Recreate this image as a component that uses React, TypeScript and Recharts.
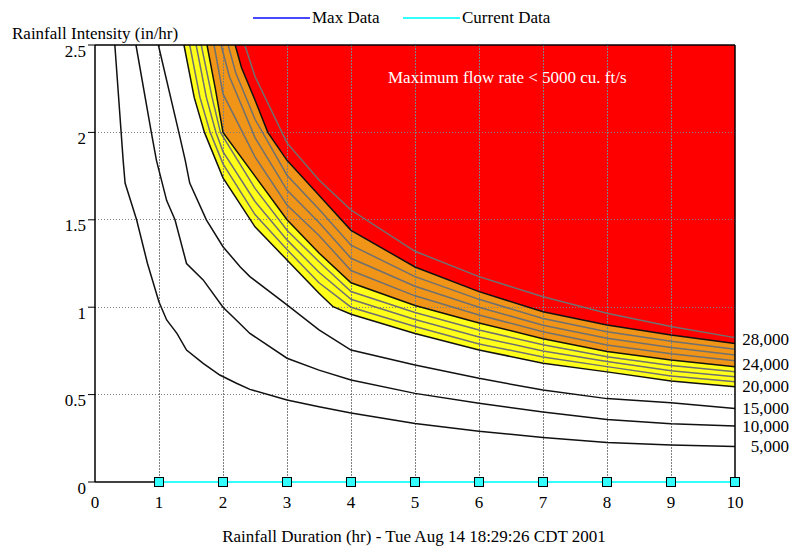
import {
  ComposedChart,
  Area,
  Line,
  XAxis,
  YAxis,
  CartesianGrid,
  ReferenceLine,
} from "recharts";

// contour lines of flow rate (cu. ft/s): [duration hr, intensity in/hr]
const flow5k = [
  [0.31, 2.5], [0.44, 1.84], [0.47, 1.71], [0.65, 1.5], [0.82, 1.25], [1.0, 1.03],
  [1.12, 0.927], [1.28, 0.85], [1.43, 0.755], [1.69, 0.679], [1.95, 0.612], [2.21, 0.565],
  [2.42, 0.53], [3, 0.469], [3.5, 0.43], [4, 0.395], [5, 0.335], [6, 0.29], [7, 0.255],
  [8, 0.226], [9, 0.212], [10, 0.203],
];
const flow10k = [
  [0.64, 2.5], [0.88, 2.0], [0.96, 1.84], [1.12, 1.61], [1.25, 1.5], [1.43, 1.25],
  [1.69, 1.156], [2.0, 1.0], [2.21, 0.925], [2.42, 0.85], [3, 0.708], [3.5, 0.64],
  [4, 0.584], [5, 0.507], [6, 0.45], [7, 0.4], [8, 0.357], [9, 0.333], [10, 0.32],
];
const flow15k = [
  [0.99, 2.5], [1.31, 2.0], [1.41, 1.84], [1.48, 1.71], [1.74, 1.5], [2.0, 1.346],
  [2.27, 1.23], [2.42, 1.175], [3, 1.013], [3.5, 0.87], [4, 0.755], [5, 0.669],
  [6, 0.593], [7, 0.526], [8, 0.477], [9, 0.454], [10, 0.421],
];
const flow20k = [
  [1.39, 2.5], [1.55, 2.2], [1.71, 2.0], [2, 1.74], [2.5, 1.46], [3, 1.27], [3.5, 1.08],
  [3.72, 1.003], [4, 0.96], [5, 0.85], [6, 0.755], [7, 0.68], [8, 0.63], [9, 0.578], [10, 0.545],
];
const flow21k = [
  [1.48, 2.5], [1.64, 2.2], [1.8, 2.0], [2, 1.82], [2.5, 1.53], [3, 1.33], [3.5, 1.14],
  [4, 1.0], [5, 0.89], [6, 0.79], [7, 0.715], [8, 0.66], [9, 0.607], [10, 0.574],
];
const flow22k = [
  [1.58, 2.5], [1.74, 2.2], [1.89, 2.0], [2, 1.89], [2.5, 1.605], [3, 1.385], [3.5, 1.2],
  [4, 1.045], [5, 0.93], [6, 0.83], [7, 0.75], [8, 0.69], [9, 0.637], [10, 0.602],
];
const flow23k = [
  [1.66, 2.5], [1.83, 2.2], [1.96, 2.0], [2.5, 1.68], [3, 1.44], [3.5, 1.26],
  [4, 1.09], [5, 0.97], [6, 0.87], [7, 0.785], [8, 0.717], [9, 0.667], [10, 0.631],
];
const flow24k = [
  [1.75, 2.5], [1.88, 2.25], [2, 2.0], [2.5, 1.75], [3, 1.5], [3.5, 1.31], [4, 1.14],
  [5, 1.01], [6, 0.91], [7, 0.82], [8, 0.746], [9, 0.698], [10, 0.66],
];
const flow25k = [
  [1.86, 2.5], [2, 2.22], [2.5, 1.86], [3, 1.585], [3.5, 1.41], [4, 1.21], [5, 1.065],
  [6, 0.955], [7, 0.86], [8, 0.784], [9, 0.734], [10, 0.693],
];
const flow26k = [
  [1.97, 2.5], [2.1, 2.32], [2.5, 1.97], [3, 1.67], [3.5, 1.485], [4, 1.28], [5, 1.12],
  [6, 1.0], [7, 0.897], [8, 0.822], [9, 0.77], [10, 0.727],
];
const flow27k = [
  [2.08, 2.5], [2.2, 2.34], [2.5, 2.075], [3, 1.755], [3.5, 1.56], [4, 1.355], [5, 1.175],
  [6, 1.045], [7, 0.935], [8, 0.86], [9, 0.805], [10, 0.76],
];
const flow28k = [
  [2.19, 2.5], [2.29, 2.37], [2.5, 2.185], [2.7, 2.0], [3, 1.84], [3.5, 1.64], [4, 1.44],
  [5, 1.23], [6, 1.089], [7, 0.974], [8, 0.898], [9, 0.841], [10, 0.793],
];
const flow29k = [
  [2.34, 2.5], [2.5, 2.32], [3, 1.94], [3.5, 1.728], [4, 1.556], [5, 1.32], [6, 1.175],
  [7, 1.06], [8, 0.965], [9, 0.889], [10, 0.826],
];

const currentDurations = [1, 2, 3, 4, 5, 6, 7, 8, 9, 10];
const currentIntensity = [0, 0, 0, 0, 0, 0, 0, 0, 0, 0];

const durationTicks = [0, 1, 2, 3, 4, 5, 6, 7, 8, 9, 10];
const intensityTicks = [0, 0.5, 1, 1.5, 2, 2.5];

const FONT = '"Liberation Serif", "Times New Roman", serif';

const pts = (arr: number[][]) => arr.map(([d, v]) => ({ d, v }));

const currentData = currentDurations.map((d, i) => ({ d, v: currentIntensity[i] }));

// dotted grid as its own series so it lands on top of the filled bands
const xMin = durationTicks[0];
const xMax = durationTicks[durationTicks.length - 1];
const yMin = intensityTicks[0];
const yMax = intensityTicks[intensityTicks.length - 1];
const gridVertical = durationTicks.slice(1, -1).map((t) => [
  { d: t, g: yMin },
  { d: t, g: yMax },
]);
const gridHorizontal = intensityTicks.slice(1, -1).map((t) => [
  { d: xMin, g: t },
  { d: xMax, g: t },
]);

const endLabel = (text: string, count: number, dy = 0) => (props: any) => {
  const { x, y, index } = props;
  if (index !== count - 1) return <g />;
  return (
    <text
      x={x + 54}
      y={y + dy}
      textAnchor="end"
      dominantBaseline="central"
      fontSize={17}
      fontFamily={FONT}
      fill="#000"
    >
      {text}
    </text>
  );
};

const YTick = ({ x, y, payload }: any) => (
  <text x={x} y={y + 6} textAnchor="end" dominantBaseline="central" fontSize={17} fontFamily={FONT} fill="#000">
    {payload.value}
  </text>
);

const XTick = ({ x, y, payload }: any) => (
  <text x={x} y={y + 18} textAnchor="middle" fontSize={17} fontFamily={FONT} fill="#000">
    {payload.value}
  </text>
);

const Square = (props: any) => {
  const { cx, cy } = props;
  return <rect x={cx - 4.5} y={cy - 4.5} width={9} height={9} fill="#33ffff" stroke="#000" strokeWidth={1} />;
};

const bands = [
  { data: flow20k, fill: "#ffff1a" },
  { data: flow24k, fill: "#f09518" },
  { data: flow28k, fill: "#ff0000" },
];

const blackLines = [
  { data: flow5k, label: "5,000", dy: 0 },
  { data: flow10k, label: "10,000", dy: 0 },
  { data: flow15k, label: "15,000", dy: 0 },
  { data: flow20k, label: "20,000", dy: 0 },
  { data: flow24k, label: "24,000", dy: -2 },
  { data: flow28k, label: "28,000", dy: -4 },
];

const grayLines = [flow21k, flow22k, flow23k, flow25k, flow26k, flow27k, flow29k];

export default function App() {
  return (
    <div style={{ position: "absolute", left: 0, top: 0, width: 791, height: 546, background: "#fff" }}>
      <ComposedChart width={791} height={546} margin={{ top: 45, right: 56, bottom: 0, left: 0 }}>
        <XAxis
          type="number"
          dataKey="d"
          domain={[0, 10]}
          ticks={durationTicks}
          height={64}
          axisLine={false}
          tickLine={false}
          tickSize={6}
          tickMargin={2}
          tick={<XTick />}
        />
        <YAxis
          type="number"
          domain={[0, 2.5]}
          ticks={intensityTicks}
          width={95}
          axisLine={{ stroke: "#000", strokeWidth: 1.5 }}
          tickLine={{ stroke: "#000" }}
          tickSize={7}
          tickMargin={2}
          tick={<YTick />}
        />
        {bands.map((b, i) => (
          <Area
            key={"band" + i}
            data={pts(b.data)}
            dataKey="v"
            type="linear"
            baseValue="dataMax"
            stroke="none"
            fill={b.fill}
            fillOpacity={1}
            dot={false}
            activeDot={false}
            isAnimationActive={false}
            {...({ zIndex: -200 + i } as any)}
          />
        ))}
        <CartesianGrid
          stroke="#808080"
          strokeDasharray="1 2"
          strokeWidth={1}
          horizontalValues={intensityTicks.slice(1, -1)}
          verticalValues={durationTicks.slice(1, -1)}
          shapeRendering="crispEdges"
        />
        {[...gridVertical, ...gridHorizontal].map((g, i) => (
          <Line
            key={"grid" + i}
            data={g}
            dataKey="g"
            type="linear"
            stroke="#808080"
            strokeWidth={1}
            strokeDasharray="1 2"
            shapeRendering="crispEdges"
            dot={false}
            activeDot={false}
            isAnimationActive={false}
          />
        ))}
        {grayLines.map((g, i) => (
          <Line
            key={"gray" + i}
            data={pts(g)}
            dataKey="v"
            type="linear"
            stroke="#707070"
            strokeWidth={1.5}
            dot={false}
            activeDot={false}
            isAnimationActive={false}
          />
        ))}
        {blackLines.map((l, i) => (
          <Line
            key={"black" + i}
            data={pts(l.data)}
            dataKey="v"
            type="linear"
            stroke="#111"
            strokeWidth={1.5}
            dot={false}
            activeDot={false}
            label={endLabel(l.label, l.data.length, l.dy)}
            isAnimationActive={false}
          />
        ))}
        <ReferenceLine y={2.5} stroke="#000" strokeWidth={1.5} />
        <ReferenceLine x={10} stroke="#000" strokeWidth={1.5} />
        <ReferenceLine
          segment={[{ x: 0, y: 0 }, { x: 1, y: 0 }]}
          stroke="#000"
          strokeWidth={1.5}
        />
        <Line
          data={currentData}
          dataKey="v"
          name="Current Data"
          type="linear"
          stroke="#33ffff"
          strokeWidth={2}
          dot={<Square />}
          activeDot={false}
          isAnimationActive={false}
        />
      </ComposedChart>
      <svg
        width={791}
        height={546}
        style={{ position: "absolute", left: 0, top: 0, pointerEvents: "none" }}
        fontFamily={FONT}
        fontSize={17}
      >
        <line x1={253} y1={18} x2={310} y2={18} stroke="#4848ff" strokeWidth={2} />
        <text x={312} y={23} fill="#000">Max Data</text>
        <line x1={403} y1={18} x2={460} y2={18} stroke="#33ffff" strokeWidth={2} />
        <text x={462} y={23} fill="#000">Current Data</text>
        <text x={12} y={39} fill="#000">Rainfall Intensity (in/hr)</text>
        <text x={388} y={83} fill="#fff">Maximum flow rate &lt; 5000 cu. ft/s</text>
        <text x={414} y={542} textAnchor="middle" fill="#000">
          Rainfall Duration (hr) - Tue Aug 14 18:29:26 CDT 2001
        </text>
      </svg>
    </div>
  );
}
